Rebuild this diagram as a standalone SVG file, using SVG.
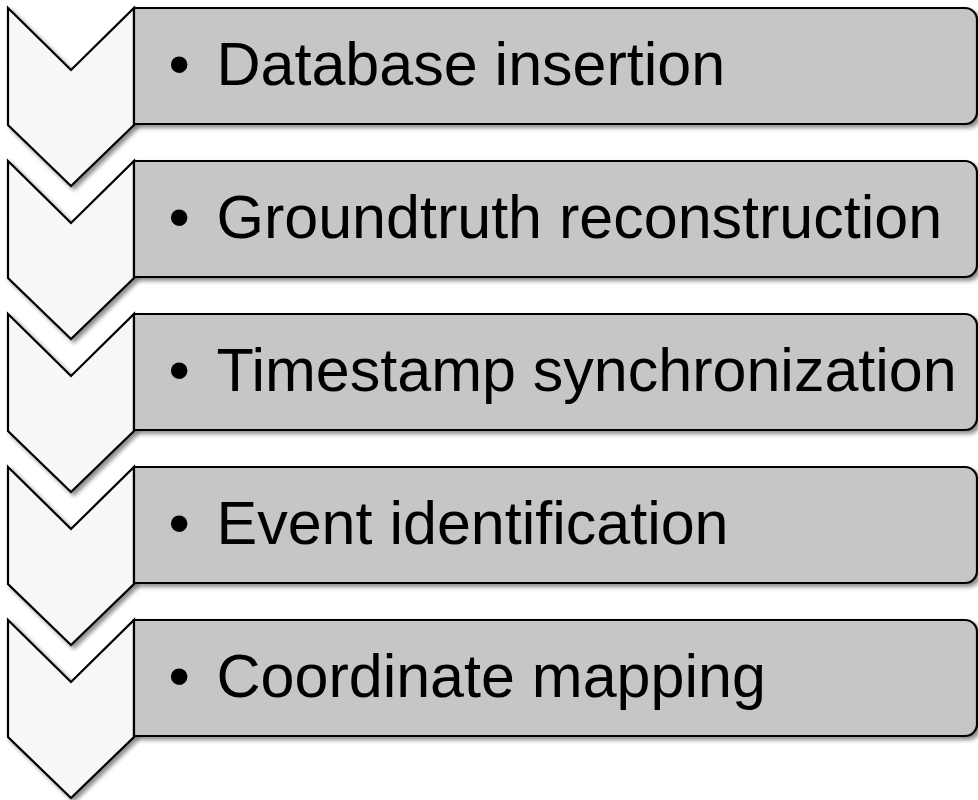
<svg xmlns="http://www.w3.org/2000/svg" width="978" height="800" viewBox="0 0 978 800">
  <defs>
    <filter id="shadow" x="-10%" y="-10%" width="130%" height="130%">
      <feGaussianBlur in="SourceAlpha" stdDeviation="2.2"/>
      <feOffset dx="2.5" dy="2.5" result="b"/>
      <feComponentTransfer><feFuncA type="linear" slope="0.45"/></feComponentTransfer>
      <feMerge><feMergeNode/><feMergeNode in="SourceGraphic"/></feMerge>
    </filter>
    <!-- chevron: notch on top, point at bottom -->
    <path id="chev" d="M8,8 L71,70 L134,8 L134,125 L71,186 L8,125 Z"/>
    <!-- bar with rounded right-hand corners -->
    <path id="bar" d="M134,8 H965 A12,12 0 0 1 977,20 V112 A12,12 0 0 1 965,124 H134 Z"/>
  </defs>
  <style>
    .chev { fill: #f7f7f7; stroke: #000; stroke-width: 2.2; stroke-linejoin: miter; filter: url(#shadow); }
    .bar { fill: #c6c6c6; stroke: #000; stroke-width: 2.2; filter: url(#shadow); }
    .txt { font-family: "Liberation Sans", Arial, sans-serif; font-size: 61px; fill: #000; }
  </style>

  <g id="step1">
    <use href="#chev" class="chev"/>
    <use href="#bar" class="bar"/>
    <text class="txt" x="168.5" y="85">•</text>
    <text class="txt" x="216.5" y="85">Database insertion</text>
  </g>
  <g id="step2" transform="translate(0,153)">
    <use href="#chev" class="chev"/>
    <use href="#bar" class="bar"/>
    <text class="txt" x="168.5" y="85">•</text>
    <text class="txt" x="216.5" y="85">Groundtruth reconstruction</text>
  </g>
  <g id="step3" transform="translate(0,306)">
    <use href="#chev" class="chev"/>
    <use href="#bar" class="bar"/>
    <text class="txt" x="168.5" y="85">•</text>
    <text class="txt" x="216.5" y="85">Timestamp synchronization</text>
  </g>
  <g id="step4" transform="translate(0,459)">
    <use href="#chev" class="chev"/>
    <use href="#bar" class="bar"/>
    <text class="txt" x="168.5" y="85">•</text>
    <text class="txt" x="216.5" y="85">Event identification</text>
  </g>
  <g id="step5" transform="translate(0,612)">
    <use href="#chev" class="chev"/>
    <use href="#bar" class="bar"/>
    <text class="txt" x="168.5" y="85">•</text>
    <text class="txt" x="216.5" y="85">Coordinate mapping</text>
  </g>
</svg>
